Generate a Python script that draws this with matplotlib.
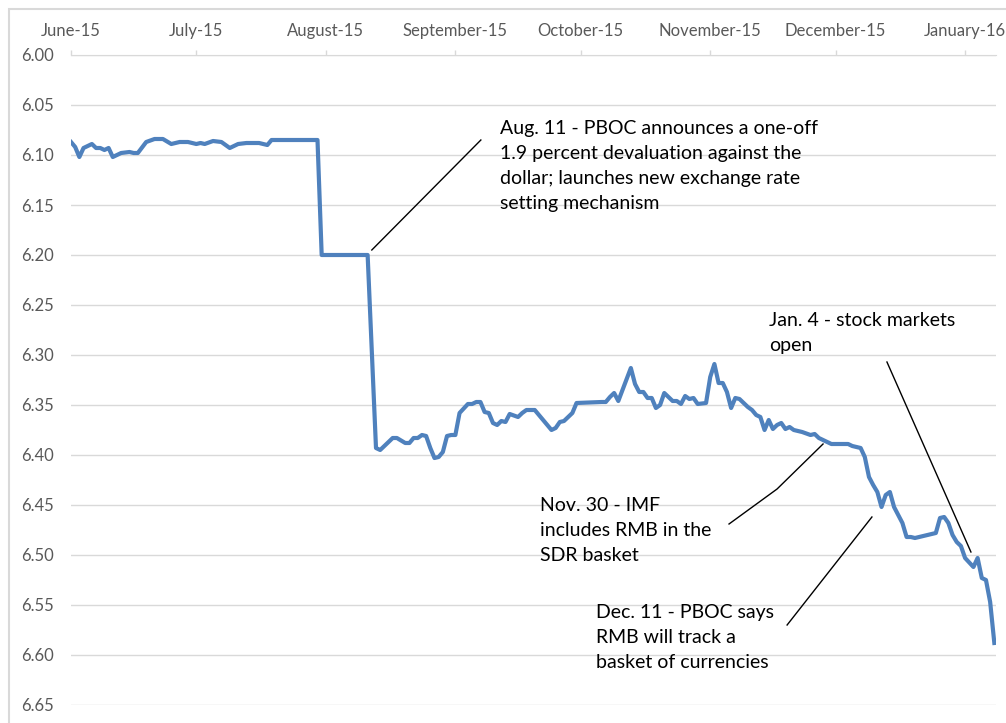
import matplotlib
matplotlib.use('Agg')
import matplotlib.pyplot as plt
from matplotlib.patches import Rectangle
import pandas as pd

plt.rcParams['font.family'] = ['Lato', 'DejaVu Sans']

# USD/CNY, days counted from 1 June 2015
start = pd.Timestamp('2015-06-01')
days = [0, 1, 2, 3, 5, 6, 7, 8, 9, 10, 12, 14, 15, 16, 18, 20, 22, 24, 26, 28,
        30, 31, 32, 34, 36, 38, 40, 42, 45, 47, 48, 59, 60, 71, 73, 74, 76, 77,
        78, 80, 81, 82, 83, 84, 85, 86, 87, 88, 89, 90, 91, 92, 93, 95, 96, 97,
        98, 99, 100, 101, 102, 103, 104, 105, 107, 108, 109, 111, 113, 115, 116,
        117, 118, 120, 121, 127, 128, 129, 130, 131, 132, 134, 135, 136, 137,
        138, 139, 140, 141, 142, 144, 145, 146, 147, 148, 149, 150, 152, 153,
        154, 155, 156, 157, 158, 159, 160, 162, 163, 164, 165, 166, 167, 168,
        169, 170, 171, 172, 173, 175, 177, 178, 179, 181, 182, 186, 187, 189,
        190, 191, 192, 193, 194, 195, 196, 197, 199, 200, 201, 202, 203, 205,
        206, 207, 208, 209, 210, 211, 212, 213, 214, 216, 217, 218, 219, 220,
        221]
rate = [6.087, 6.092, 6.102, 6.093, 6.089, 6.093, 6.093, 6.095, 6.093, 6.102,
        6.098, 6.097, 6.098, 6.098, 6.087, 6.084, 6.084, 6.089, 6.087, 6.087,
        6.089, 6.088, 6.089, 6.086, 6.087, 6.093, 6.089, 6.088, 6.088, 6.090,
        6.085, 6.085, 6.200, 6.200, 6.393, 6.395, 6.387, 6.383, 6.383, 6.388,
        6.388, 6.383, 6.383, 6.380, 6.381, 6.393, 6.403, 6.402, 6.397, 6.381,
        6.380, 6.380, 6.358, 6.349, 6.349, 6.347, 6.347, 6.357, 6.358, 6.368,
        6.370, 6.366, 6.367, 6.359, 6.362, 6.358, 6.355, 6.355, 6.365, 6.375,
        6.373, 6.367, 6.366, 6.358, 6.348, 6.347, 6.347, 6.342, 6.338, 6.346,
        6.335, 6.313, 6.329, 6.337, 6.337, 6.343, 6.343, 6.353, 6.350, 6.338,
        6.346, 6.346, 6.349, 6.341, 6.344, 6.343, 6.349, 6.348, 6.322, 6.309,
        6.328, 6.328, 6.337, 6.353, 6.343, 6.344, 6.352, 6.355, 6.360, 6.362,
        6.375, 6.365, 6.374, 6.370, 6.368, 6.374, 6.372, 6.375, 6.377, 6.380,
        6.379, 6.383, 6.387, 6.389, 6.389, 6.391, 6.393, 6.402, 6.422, 6.430,
        6.437, 6.452, 6.440, 6.437, 6.452, 6.468, 6.482, 6.482, 6.483, 6.482,
        6.480, 6.479, 6.478, 6.463, 6.462, 6.468, 6.480, 6.487, 6.491, 6.503,
        6.512, 6.503, 6.523, 6.525, 6.547, 6.588]

month_starts = ['2015-06-01', '2015-07-01', '2015-08-01', '2015-09-01',
                '2015-10-01', '2015-11-01', '2015-12-01', '2016-01-01']
month_labels = ['June-15', 'July-15', 'August-15', 'September-15',
                'October-15', 'November-15', 'December-15', 'January-16']
y_ticks = [6.00, 6.05, 6.10, 6.15, 6.20, 6.25, 6.30, 6.35, 6.40, 6.45, 6.50,
           6.55, 6.60, 6.65]

# notes: text, text anchor (day, value), leader line points (day, value)
notes = [
    ('Aug. 11 - PBOC announces a one-off\n1.9 percent devaluation against the\n'
     'dollar; launches new exchange rate\nsetting mechanism',
     (102.7, 6.065), [(72.0, 6.195), (98.1, 6.085)]),
    ('Nov. 30 - IMF\nincludes RMB in the\nSDR basket',
     (112.3, 6.442), [(180.0, 6.389), (169.0, 6.434), (157.5, 6.469)]),
    ('Dec. 11 - PBOC says\nRMB will track a\nbasket of currencies',
     (125.7, 6.5495), [(191.7, 6.462), (171.4, 6.570)]),
    ('Jan. 4 - stock markets\nopen',
     (167.1, 6.2575), [(195.3, 6.307), (215.4, 6.497)]),
]

dates = start + pd.to_timedelta(days, unit='D')
to_date = lambda d: start + pd.Timedelta(days=d)

fig = plt.figure(figsize=(10.06, 7.23), dpi=100)
ax = fig.add_axes([71 / 1006, 1 - 705 / 723, 925 / 1006, 650 / 723])

grid_col = '#d9d9d9'
ax.plot(dates, rate, color='#4f81bd', lw=3.0, solid_joinstyle='round', zorder=3)

for text, (tx, ty), pts in notes:
    ax.plot([to_date(p[0]) for p in pts], [p[1] for p in pts],
            color='black', lw=1.0, zorder=4)
    ax.text(to_date(tx), ty, text, fontsize=14, va='top', ha='left',
            linespacing=1.56, color='black', zorder=5)

ax.set_ylim(6.65, 6.00)
ax.set_xlim(start, to_date(221.4))
ax.set_yticks(y_ticks)
ax.set_yticklabels(['%.2f' % v for v in y_ticks])
ax.set_xticks(pd.to_datetime(month_starts))
ax.set_xticklabels(month_labels)

ax.xaxis.tick_top()
ax.tick_params(axis='x', length=3.6, width=1, color=grid_col, pad=8,
               labelsize=12, labelcolor='#595959')
ax.tick_params(axis='y', length=0, pad=12, labelsize=12, labelcolor='#595959')
ax.yaxis.grid(True, color=grid_col, lw=1)
for s in ['left', 'right', 'bottom']:
    ax.spines[s].set_visible(False)
ax.spines['top'].set_color(grid_col)
ax.set_axisbelow(True)

fig.add_artist(Rectangle((9 / 1006, -0.1), 1.2, 1.1 - 9 / 723,
                         transform=fig.transFigure, fill=False,
                         edgecolor=grid_col, lw=1.5))

fig.savefig('out.png', dpi=100)
